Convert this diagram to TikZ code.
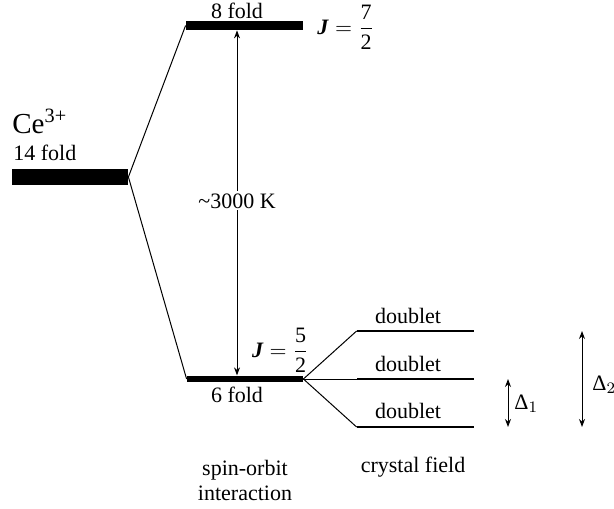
\documentclass[tikz,border=0pt]{standalone}
\usepackage{fontspec}
\setmainfont{Liberation Serif}
\usetikzlibrary{arrows.meta,positioning}

\begin{document}
\begin{tikzpicture}[
    x=0.5pt, y=-0.5pt,
    % energiaszintek
    level/.style={fill=black, inner sep=0pt, minimum width=58.5pt},
    split/.style={line width=0.5pt},
    gap/.style={line width=0.5pt, {Stealth[length=4pt,width=3pt]}-{Stealth[length=4pt,width=3pt]}},
    lbl/.style={inner sep=0pt, font=\fontsize{11}{12.5}\selectfont}
]
    \useasboundingbox (0,0) rectangle (614,508);

    % Szintek
    \node[level, minimum width=58pt, minimum height=8pt] (ce) at (70,177) {};
    \node[level, minimum height=4.5pt] (jseven) at (244.5,25.5) {};
    \node[level, minimum width=58pt, minimum height=3.25pt] (jfive) at (245,379) {};

    % Kristálytér dubletek
    \node[level, minimum height=1.25pt] (dup) at (415.5,331) {};
    \node[level, minimum height=1.25pt] (dmid) at (415.5,379) {};
    \node[level, minimum height=1.25pt] (dlow) at (415.5,427) {};

    % Összekötő vonalak
    \draw[split] (ce.east) -- (jseven.west);
    \draw[split] (ce.east) -- (jfive.west);
    \draw[split] (jfive.east) -- (dup.west);
    \draw[split] (jfive.east) -- (dmid.west);
    \draw[split] (jfive.east) -- (dlow.west);

    % Nyilak
    \coordinate (soaxis) at (237,0);
    \coordinate (donex) at (508,0);
    \coordinate (dtwox) at (582,0);
    \draw[gap] (jfive.north -| soaxis) -- (jseven.south -| soaxis);
    \draw[gap] (dmid -| donex) -- (dlow -| donex);
    \draw[gap] (dup -| dtwox) -- (dlow -| dtwox);

    % Feliratok
    \node[lbl, fill=white, inner sep=1pt, anchor=base] (sotext) at (237,208) {\textasciitilde3000 K};
    \node[lbl, anchor=base west, font=\fontsize{14.5}{16}\selectfont] (celbl) at (12,133) {Ce\textsuperscript{3+}};
    \node[lbl, anchor=base west] (fourteen) at (13,160) {14 fold};
    \node[lbl, anchor=base] (eight) at (237,19) {8 fold};
    \node[lbl, anchor=base] (six) at (237,402) {6 fold};
    \node[lbl, anchor=west] (jsevenlbl) at (317,27) {$\textbf{\textit{J}} = \displaystyle\frac{\mbox{7}}{\mbox{2}}$};
    \node[lbl, anchor=east] (jfivelbl) at (309,350) {$\textbf{\textit{J}} = \displaystyle\frac{\mbox{5}}{\mbox{2}}$};
    \node[lbl, anchor=base] (duplbl) at (408,323) {doublet};
    \node[lbl, anchor=base] (dmidlbl) at (408,371) {doublet};
    \node[lbl, anchor=base] (dlowlbl) at (408,418) {doublet};
    \node[lbl, anchor=west] (donelbl) at (514,404) {Δ$_1$};
    \node[lbl, anchor=west] (dtwolbl) at (592,385) {Δ$_2$};
    \node[lbl, align=center] (solbl) at (245,480) {spin-orbit\\interaction};
    \node[lbl, anchor=base] (cflbl) at (413,472) {crystal field};
\end{tikzpicture}
\end{document}
